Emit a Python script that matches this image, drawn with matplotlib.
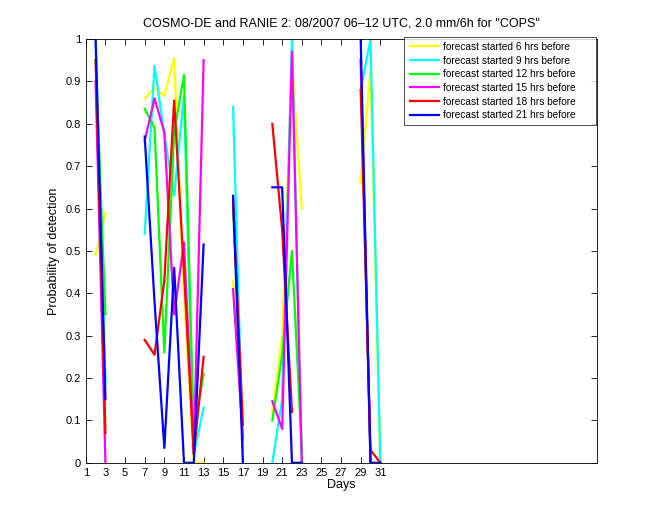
import numpy as np
import matplotlib
matplotlib.use("Agg")
import matplotlib.pyplot as plt

days = np.arange(1, 32)

def series(d):
    arr = np.full(31, np.nan)
    for k, v in d.items():
        arr[k - 1] = v
    return arr

# values (NaN = no data)
pod_6h = series({2: 0.49, 3: 0.59, 7: 0.86, 8: 0.885, 9: 0.866, 10: 0.955, 11: 0.40, 12: 0.0, 13: 0.0,
                 16: 0.43, 17: 0.1, 20: 0.12, 21: 0.30, 22: 0.95, 23: 0.60, 29: 0.66, 30: 0.93, 31: 0.0})
pod_9h = series({2: 1.0, 3: 0.19, 7: 0.54, 8: 0.937, 9: 0.775, 10: 0.63, 11: 0.866, 12: 0.02, 13: 0.13,
                 16: 0.84, 17: 0.03, 20: 0.0, 21: 0.15, 22: 1.0, 23: 0.0, 29: 0.88, 30: 1.0, 31: 0.0})
pod_12h = series({2: 0.95, 3: 0.35, 7: 0.835, 8: 0.79, 9: 0.26, 10: 0.78, 11: 0.915, 12: 0.07, 13: 0.21,
                  16: 0.6, 17: 0.05, 20: 0.1, 21: 0.255, 22: 0.5, 23: 0.03, 29: 0.95, 30: 0.0})
pod_15h = series({2: 0.9, 3: 0.0, 7: 0.76, 8: 0.86, 9: 0.78, 10: 0.35, 11: 0.52, 12: 0.02, 13: 0.95,
                  16: 0.41, 17: 0.06, 20: 0.145, 21: 0.08, 22: 0.97, 23: 0.0, 29: 0.95, 30: 0.0})
pod_18h = series({2: 0.95, 3: 0.07, 7: 0.29, 8: 0.255, 9: 0.43, 10: 0.855, 11: 0.45, 12: 0.02, 13: 0.25,
                  16: 0.62, 17: 0.09, 20: 0.8, 21: 0.55, 22: 0.12, 29: 0.88, 30: 0.03, 31: 0.0})
pod_21h = series({2: 1.0, 3: 0.15, 7: 0.77, 8: 0.38, 9: 0.035, 10: 0.46, 11: 0.0, 12: 0.0, 13: 0.515,
                  16: 0.63, 17: 0.0, 20: 0.65, 21: 0.65, 22: 0.0, 23: 0.0, 29: 1.0, 30: 0.0, 31: 0.0})

labels = ["forecast started 6 hrs before", "forecast started 9 hrs before",
          "forecast started 12 hrs before", "forecast started 15 hrs before",
          "forecast started 18 hrs before", "forecast started 21 hrs before"]
colors = ["#ffff00", "#00ffff", "#00ff00", "#ff00ff", "#ff0000", "#0000ff"]
all_series = [pod_6h, pod_9h, pod_12h, pod_15h, pod_18h, pod_21h]

xticks = list(range(1, 32, 2))
yticks = [0, 0.1, 0.2, 0.3, 0.4, 0.5, 0.6, 0.7, 0.8, 0.9, 1]
ytick_labels = ["0", "0.1", "0.2", "0.3", "0.4", "0.5", "0.6", "0.7", "0.8", "0.9", "1"]

plt.rcParams['font.family'] = ['Liberation Sans', 'DejaVu Sans']
fig = plt.figure(figsize=(6.6, 5.2), dpi=100)
ax = fig.add_axes([0.13, 0.11, 0.775, 0.815])
for s, c, l in zip(all_series, colors, labels):
    ax.plot(days, s, color=c, lw=1.6, label=l)

ax.set_xlim(1, 53.1)
ax.set_ylim(0, 1)
ax.set_xticks(xticks)
ax.set_xticklabels([str(t) for t in xticks], fontsize=8)
ax.set_yticks(yticks)
ax.set_yticklabels(ytick_labels, fontsize=8)
ax.tick_params(direction='in', top=True, right=True, length=4, width=0.6)
for sp in ax.spines.values():
    sp.set_linewidth(0.6)
ax.set_xlabel("Days", fontsize=9, labelpad=1)
ax.set_ylabel("Probability of detection", fontsize=9)
ax.set_title('COSMO-DE and RANIE 2: 08/2007 06\u201312 UTC, 2.0 mm/6h for "COPS"', fontsize=9, pad=9)
leg = ax.legend(loc='upper left', fontsize=7.3, frameon=True, fancybox=False, edgecolor='black',
                handlelength=2.9, handletextpad=0.4, borderpad=0.5, labelspacing=0.36,
                borderaxespad=0.0, bbox_to_anchor=(0.623, 0.79, 0.375, 0.215), mode='expand')
leg.get_frame().set_linewidth(0.6)
fig.savefig("out.png", dpi=100)
